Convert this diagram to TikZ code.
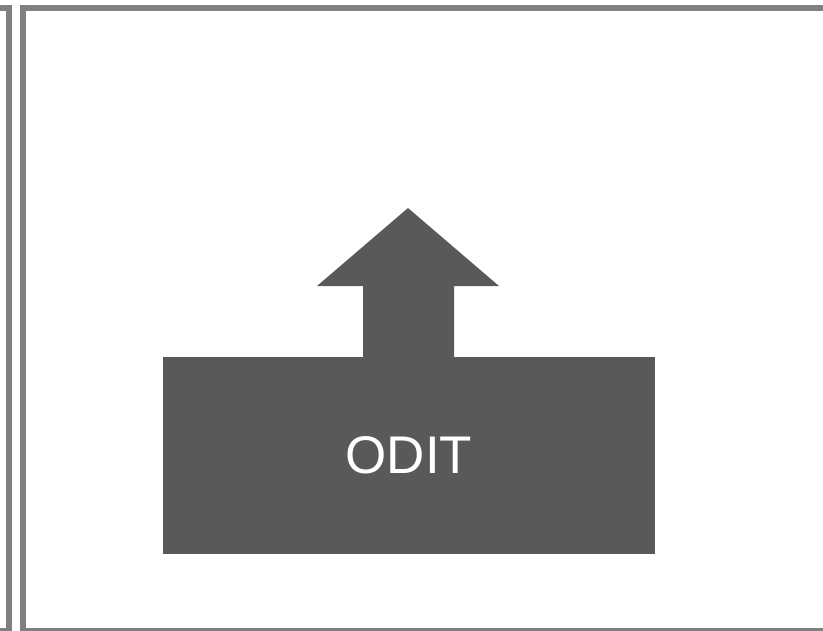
\documentclass[tikz,border=0pt]{standalone}
\usepackage{fontspec}
\setmainfont{Liberation Sans}
\usepackage{tikz}
\usepackage{xcolor}
\definecolor{frameline}{HTML}{808080}
\definecolor{blockfill}{HTML}{595959}
\tikzset{
  every node/.style={font=\fontsize{53}{60}\selectfont, text=white},
  frame/.style={draw=frameline, line width=6pt},
  block/.style={fill=blockfill, draw=none}
}

\begin{document}
\begin{tikzpicture}[x=1pt,y=-1pt]
  % Page extent, everything outside is cut away.
  \useasboundingbox (0,0) rectangle (823,630);
  \clip (0,0) rectangle (823,630);

  % Neighbouring panel on the left and the main panel (right side runs off the page).
  \draw[frame] (-40,7.5) -| (9,631) -- (-40,631);
  \draw[frame] (900,7.5) -| (23,631) -- (900,631);

  % Base block carrying the label.
  \fill[block] (163,357) rectangle (655,554);
  \node (label) at (409,455) {ODIT};

  % Upward arrow sitting on the block.
  \fill[block] (363,357) -- (363,286) -- (317,286) -- (408,208)
    -- (499,286) -- (454,286) -- (454,357) -- cycle;
\end{tikzpicture}
\end{document}
